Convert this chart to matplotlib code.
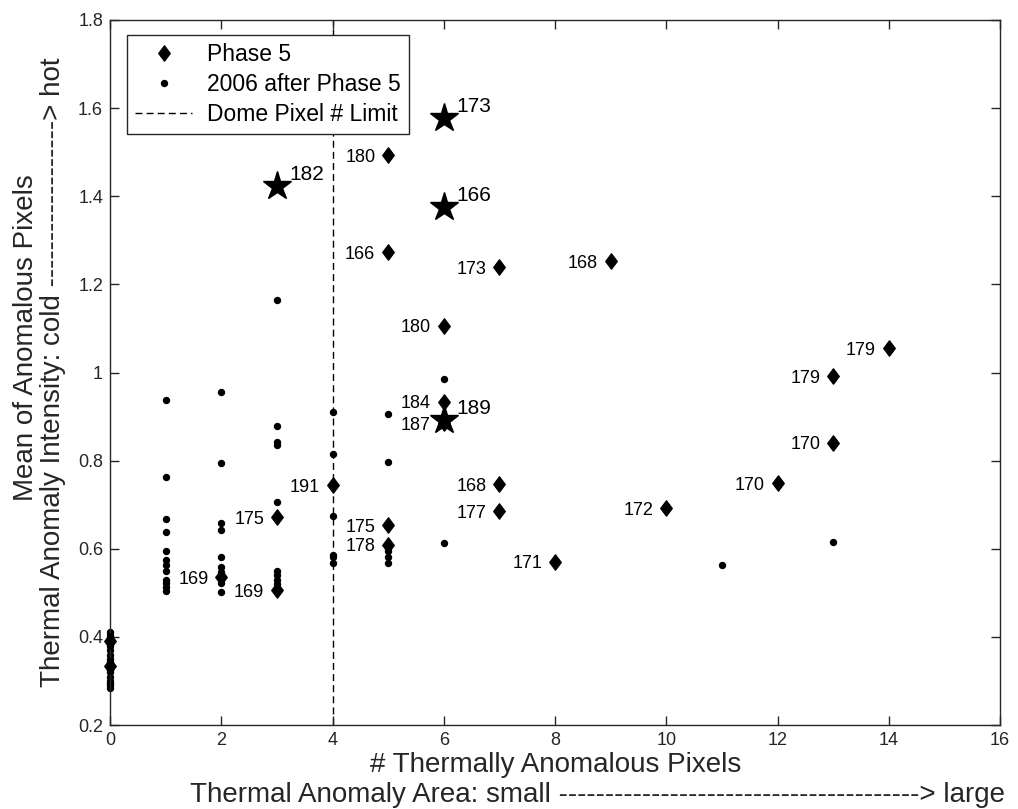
import matplotlib
matplotlib.use("Agg")
import matplotlib.pyplot as plt
from matplotlib.path import Path
from matplotlib.lines import Line2D

plt.rcParams["font.family"] = ["Liberation Sans", "DejaVu Sans"]

# Phase 5 events (diamonds), labelled with day of year
phase5_pixels = [5, 5, 7, 9, 6, 14, 13, 6, 6, 13, 4, 7, 12, 10, 7, 3, 5, 5, 8, 2, 3, 0, 0]
phase5_mean = [1.494, 1.273, 1.239, 1.252, 1.106, 1.056, 0.991, 0.934, 0.885, 0.841,
               0.745, 0.746, 0.749, 0.692, 0.686, 0.672, 0.654, 0.609, 0.571, 0.536,
               0.506, 0.390, 0.335]
phase5_day = ["180", "166", "173", "168", "180", "179", "179", "184", "187", "170",
              "191", "168", "170", "172", "177", "175", "175", "178", "171", "169",
              "169", "", ""]

# 2006 after Phase 5 (dots)
after_pixels = ([0] * 20 + [1] * 12 + [2] * 9 + [3] * 9 + [4] * 6 + [5] * 5
                + [6] * 2 + [11, 13])
after_mean = [0.41, 0.405, 0.40, 0.39, 0.385, 0.38, 0.37, 0.36, 0.35, 0.345,
              0.34, 0.335, 0.33, 0.325, 0.32, 0.31, 0.30, 0.295, 0.29, 0.285,
              0.938, 0.762, 0.667, 0.639, 0.596, 0.574, 0.563, 0.550, 0.529, 0.522,
              0.513, 0.503,
              0.955, 0.794, 0.658, 0.643, 0.582, 0.559, 0.548, 0.522, 0.501,
              1.165, 0.879, 0.843, 0.836, 0.707, 0.550, 0.540, 0.529, 0.520,
              0.910, 0.815, 0.674, 0.586, 0.581, 0.567,
              0.906, 0.798, 0.595, 0.582, 0.567,
              0.986, 0.614,
              0.562, 0.615]

# highlighted events (stars)
star_pixels = [6, 6, 3, 6]
star_mean = [1.577, 1.375, 1.423, 0.892]
star_day = ["173", "166", "182", "189"]

dome_limit = 4

ink = "#262626"
diamond = Path([(0, 1), (0.75, 0), (0, -1), (-0.75, 0), (0, 1)],
               [Path.MOVETO, Path.LINETO, Path.LINETO, Path.LINETO, Path.CLOSEPOLY])

fig = plt.figure(figsize=(10.18, 8.09), dpi=100)
ax = fig.add_axes([110 / 1018, 1 - 725 / 809, 890 / 1018, 705 / 809])

ax.axvline(dome_limit, color="black", lw=1.0, linestyle=(0, (5, 3)), zorder=1)
ax.plot(after_pixels, after_mean, linestyle="none", marker="o", ms=4.3,
        color="black", zorder=2, clip_on=False)
ax.plot(phase5_pixels, phase5_mean, linestyle="none", marker=diamond, ms=11,
        color="black", zorder=3, clip_on=False)
ax.plot(star_pixels, star_mean, linestyle="none", marker="*", ms=21,
        color="black", zorder=4, clip_on=False)

for x, y, d in zip(phase5_pixels, phase5_mean, phase5_day):
    if d:
        ax.text(x - 0.23, y - 0.005, d, fontsize=13, ha="right", va="center",
                color="black")
for x, y, d in zip(star_pixels, star_mean, star_day):
    ax.text(x + 0.22, y + 0.027, d, fontsize=15, ha="left", va="center",
            color="black")

ax.set_xlim(0, 16)
ax.set_ylim(0.2, 1.8)
ax.set_xticks(range(0, 17, 2))
ax.set_yticks([0.2, 0.4, 0.6, 0.8, 1.0, 1.2, 1.4, 1.6, 1.8])
ax.set_yticklabels([f"{v:g}" for v in ax.get_yticks()])
ax.tick_params(direction="in", top=True, right=True, length=6.5, width=1,
               labelsize=13, colors=ink, pad=5)
for s in ax.spines.values():
    s.set_color(ink)
    s.set_linewidth(1)

handles = [
    Line2D([], [], linestyle="none", marker=diamond, ms=11, color="black"),
    Line2D([], [], linestyle="none", marker="o", ms=4.3, color="black"),
    Line2D([], [], color="black", lw=1.0, linestyle=(0, (5, 3))),
]
leg = ax.legend(handles, ["Phase 5", "2006 after Phase 5", "Dome Pixel # Limit"],
                loc="upper left", bbox_to_anchor=(17 / 890, 1 - 15 / 705),
                borderaxespad=0, fontsize=16.5, fancybox=False, framealpha=1,
                edgecolor=ink, handlelength=2.5, handletextpad=0.65,
                labelspacing=0.3, borderpad=0.35)
leg.get_frame().set_linewidth(1)
leg.set_zorder(10)

fig.text(556 / 1018, 1 - 772 / 809, "# Thermally Anomalous Pixels", fontsize=20,
         ha="center", va="baseline", color=ink)
fig.text(1005 / 1018, 1 - 802 / 809,
         "Thermal Anomaly Area: small " + "-" * 39 + "> large", fontsize=20,
         ha="right", va="baseline", color=ink)
fig.text(33 / 1018, 1 - 338 / 809, "Mean of Anomalous Pixels", fontsize=20,
         rotation=90, ha="center", va="baseline", rotation_mode="anchor",
         color=ink)
fig.text(60 / 1018, 1 - 372 / 809,
         "Thermal Anomaly Intensity: cold " + "-" * 18 + "> hot", fontsize=20,
         rotation=90, ha="center", va="baseline", rotation_mode="anchor",
         color=ink)

fig.savefig("out.png", dpi=100)
